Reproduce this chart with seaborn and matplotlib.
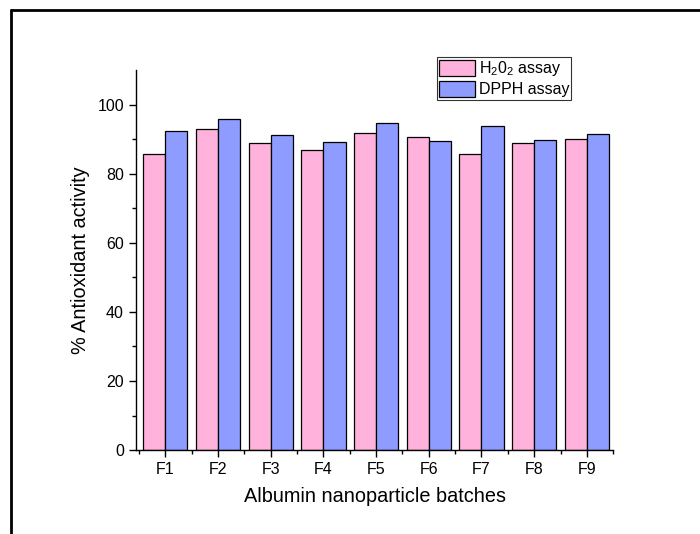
import matplotlib
matplotlib.use("Agg")
import matplotlib.pyplot as plt
import seaborn as sns
import pandas as pd
from matplotlib.lines import Line2D
from matplotlib.ticker import FixedLocator

batches = ["F1", "F2", "F3", "F4", "F5", "F6", "F7", "F8", "F9"]
h2o2 = [85.8, 92.8, 88.9, 86.8, 91.8, 90.7, 85.8, 88.9, 89.9]
dpph = [92.2, 95.9, 91.2, 89.3, 94.7, 89.4, 93.7, 89.7, 91.6]
series_names = ["H$_2$0$_2$ assay", "DPPH assay"]
colors = ["#FFB2DC", "#8E9CFF"]

df = pd.DataFrame({
    "batch": batches * 2,
    "value": h2o2 + dpph,
    "assay": [series_names[0]] * len(batches) + [series_names[1]] * len(batches),
})

sns.set_style("ticks")
plt.rcParams["font.family"] = ["Liberation Sans", "DejaVu Sans"]
plt.rcParams["mathtext.fontset"] = "custom"
plt.rcParams["mathtext.rm"] = "Liberation Sans"
plt.rcParams["mathtext.it"] = "Liberation Sans:italic"
plt.rcParams["text.color"] = "black"
plt.rcParams["axes.labelcolor"] = "black"

fig = plt.figure(figsize=(7, 5.34), dpi=100)
ax = fig.add_axes([0.194, 0.157, 0.682, 0.712])

sns.barplot(data=df, x="batch", y="value", hue="assay", palette=colors,
            width=0.84, edgecolor="black", linewidth=0.9, saturation=1,
            ax=ax, errorbar=None)

ax.set_ylim(0, 110)
ax.set_xlim(-0.56, 8.5)
ax.yaxis.set_major_locator(FixedLocator([0, 20, 40, 60, 80, 100]))
ax.yaxis.set_minor_locator(FixedLocator([10, 30, 50, 70, 90]))
ax.xaxis.set_minor_locator(FixedLocator([i - 0.5 for i in range(10)]))
ax.tick_params(axis="both", which="major", direction="out", length=5, width=1,
               labelsize=11.5, colors="black")
ax.tick_params(axis="both", which="minor", direction="out", length=3, width=1,
               colors="black")
for s in ["top", "right"]:
    ax.spines[s].set_visible(False)
for s in ["left", "bottom"]:
    ax.spines[s].set_linewidth(1.0)
    ax.spines[s].set_color("black")

ax.set_xlabel("Albumin nanoparticle batches", fontsize=14.3, labelpad=7, color="black")
ax.set_ylabel("% Antioxidant activity", fontsize=14.3, labelpad=5, color="black")

leg = ax.legend(loc="upper left", bbox_to_anchor=(0.631, 1.034), fontsize=11.5,
                frameon=True, fancybox=False, edgecolor="black",
                handlelength=2.2, handleheight=1.15, handletextpad=0.25,
                borderpad=0.15, labelspacing=0.15, borderaxespad=0)
leg.get_frame().set_linewidth(0.8)
for t in leg.get_texts():
    t.set_color("black")

# figure frame (left and top lines)
fig.add_artist(Line2D([11 / 700, 11 / 700], [0, 1 - 10 / 534], transform=fig.transFigure,
                      color="black", linewidth=2))
fig.add_artist(Line2D([11 / 700, 1], [1 - 10 / 534, 1 - 10 / 534], transform=fig.transFigure,
                      color="black", linewidth=2))

fig.savefig("out.png", dpi=100)
